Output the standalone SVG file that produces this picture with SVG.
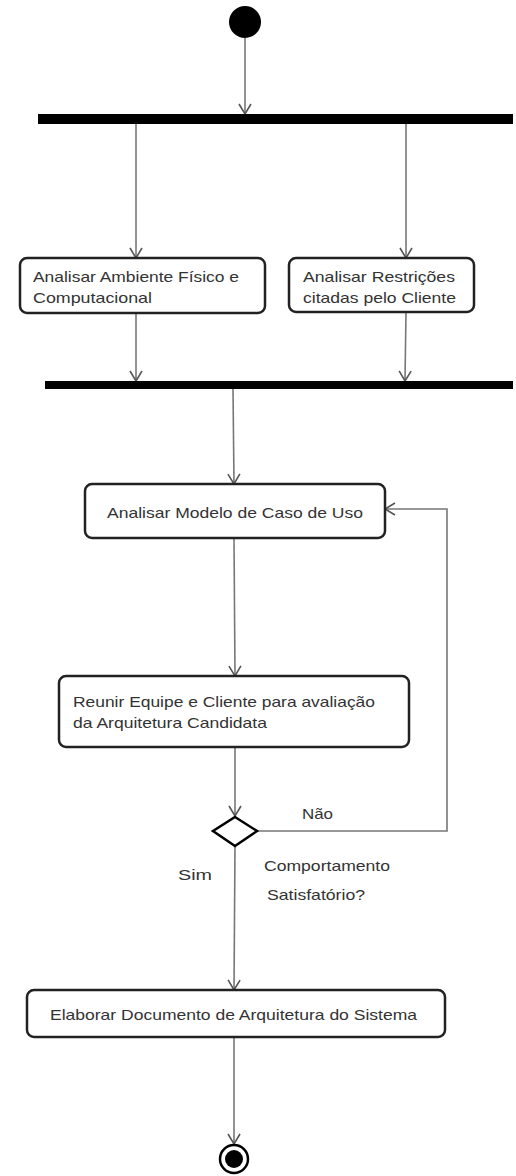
<svg xmlns="http://www.w3.org/2000/svg" width="516" height="1176" viewBox="0 0 516 1176">
<style>
.box{fill:#fff;stroke:#222;stroke-width:2.5}
.bar{fill:#000}
.t{font-family:"Liberation Sans",Arial,sans-serif;font-size:14.5px;fill:#333}
.c{fill:none;stroke:#777;stroke-width:1.6}
</style>
<defs>
<marker id="a" markerWidth="14" markerHeight="14" refX="11" refY="7" orient="auto" markerUnits="userSpaceOnUse">
<path d="M1,1 L11,7 L1,13" fill="none" stroke="#555" stroke-width="1.6"/>
</marker>
</defs>
<g id="connectors">
<line class="c" x1="245" y1="38" x2="245" y2="114" marker-end="url(#a)"/>
<line class="c" x1="136" y1="124" x2="136" y2="258" marker-end="url(#a)"/>
<line class="c" x1="406" y1="124" x2="406" y2="258" marker-end="url(#a)"/>
<line class="c" x1="136" y1="313" x2="136" y2="381" marker-end="url(#a)"/>
<line class="c" x1="406" y1="312" x2="405" y2="381" marker-end="url(#a)"/>
<line class="c" x1="233" y1="389" x2="234" y2="484" marker-end="url(#a)"/>
<line class="c" x1="234" y1="538" x2="235" y2="676" marker-end="url(#a)"/>
<line class="c" x1="235" y1="747" x2="235" y2="816" marker-end="url(#a)"/>
<polyline class="c" points="257,831 447,831 447,509 385,509" marker-end="url(#a)"/>
<line class="c" x1="235" y1="846" x2="234" y2="990" marker-end="url(#a)"/>
<line class="c" x1="234" y1="1037" x2="234" y2="1144" marker-end="url(#a)"/>
<text class="t" x="302" y="819" textLength="31" lengthAdjust="spacingAndGlyphs">Não</text>
<text class="t" x="178" y="880" textLength="34" lengthAdjust="spacingAndGlyphs">Sim</text>
</g>
<g id="start"><circle cx="245" cy="22" r="16" fill="#000"/></g>
<g id="fork1"><rect class="bar" x="38" y="114" width="475" height="10"/></g>
<g id="n1">
<rect class="box" x="20" y="258" width="245" height="55" rx="7"/>
<text class="t" x="33" y="282" textLength="206" lengthAdjust="spacingAndGlyphs">Analisar Ambiente Físico e</text>
<text class="t" x="33" y="303" textLength="119" lengthAdjust="spacingAndGlyphs">Computacional</text>
</g>
<g id="n2">
<rect class="box" x="289" y="258" width="185" height="54" rx="7"/>
<text class="t" x="303" y="282" textLength="152" lengthAdjust="spacingAndGlyphs">Analisar Restrições</text>
<text class="t" x="303" y="303" textLength="153" lengthAdjust="spacingAndGlyphs">citadas pelo Cliente</text>
</g>
<g id="join1"><rect class="bar" x="45" y="381" width="468" height="8"/></g>
<g id="n3">
<rect class="box" x="85" y="484" width="300" height="54" rx="7"/>
<text class="t" x="107" y="518" textLength="256" lengthAdjust="spacingAndGlyphs">Analisar Modelo de Caso de Uso</text>
</g>
<g id="n4">
<rect class="box" x="59" y="676" width="350" height="71" rx="7"/>
<text class="t" x="73" y="707" textLength="302" lengthAdjust="spacingAndGlyphs">Reunir Equipe e Cliente para avaliação</text>
<text class="t" x="73" y="728" textLength="194" lengthAdjust="spacingAndGlyphs">da Arquitetura Candidata</text>
</g>
<g id="decision">
<polygon points="235,817 257,831 235,846 213,831" fill="#fff" stroke="#000" stroke-width="2.5"/>
<text class="t" x="264" y="871" textLength="126" lengthAdjust="spacingAndGlyphs">Comportamento</text>
<text class="t" x="267" y="900" textLength="98" lengthAdjust="spacingAndGlyphs">Satisfatório?</text>
</g>
<g id="n5">
<rect class="box" x="27" y="990" width="418" height="47" rx="7"/>
<text class="t" x="50" y="1020" textLength="367" lengthAdjust="spacingAndGlyphs">Elaborar Documento de Arquitetura do Sistema</text>
</g>
<g id="end">
<circle cx="234" cy="1159" r="14" fill="#fff" stroke="#000" stroke-width="2.5"/>
<circle cx="234" cy="1159" r="9" fill="#000"/>
</g>
</svg>
